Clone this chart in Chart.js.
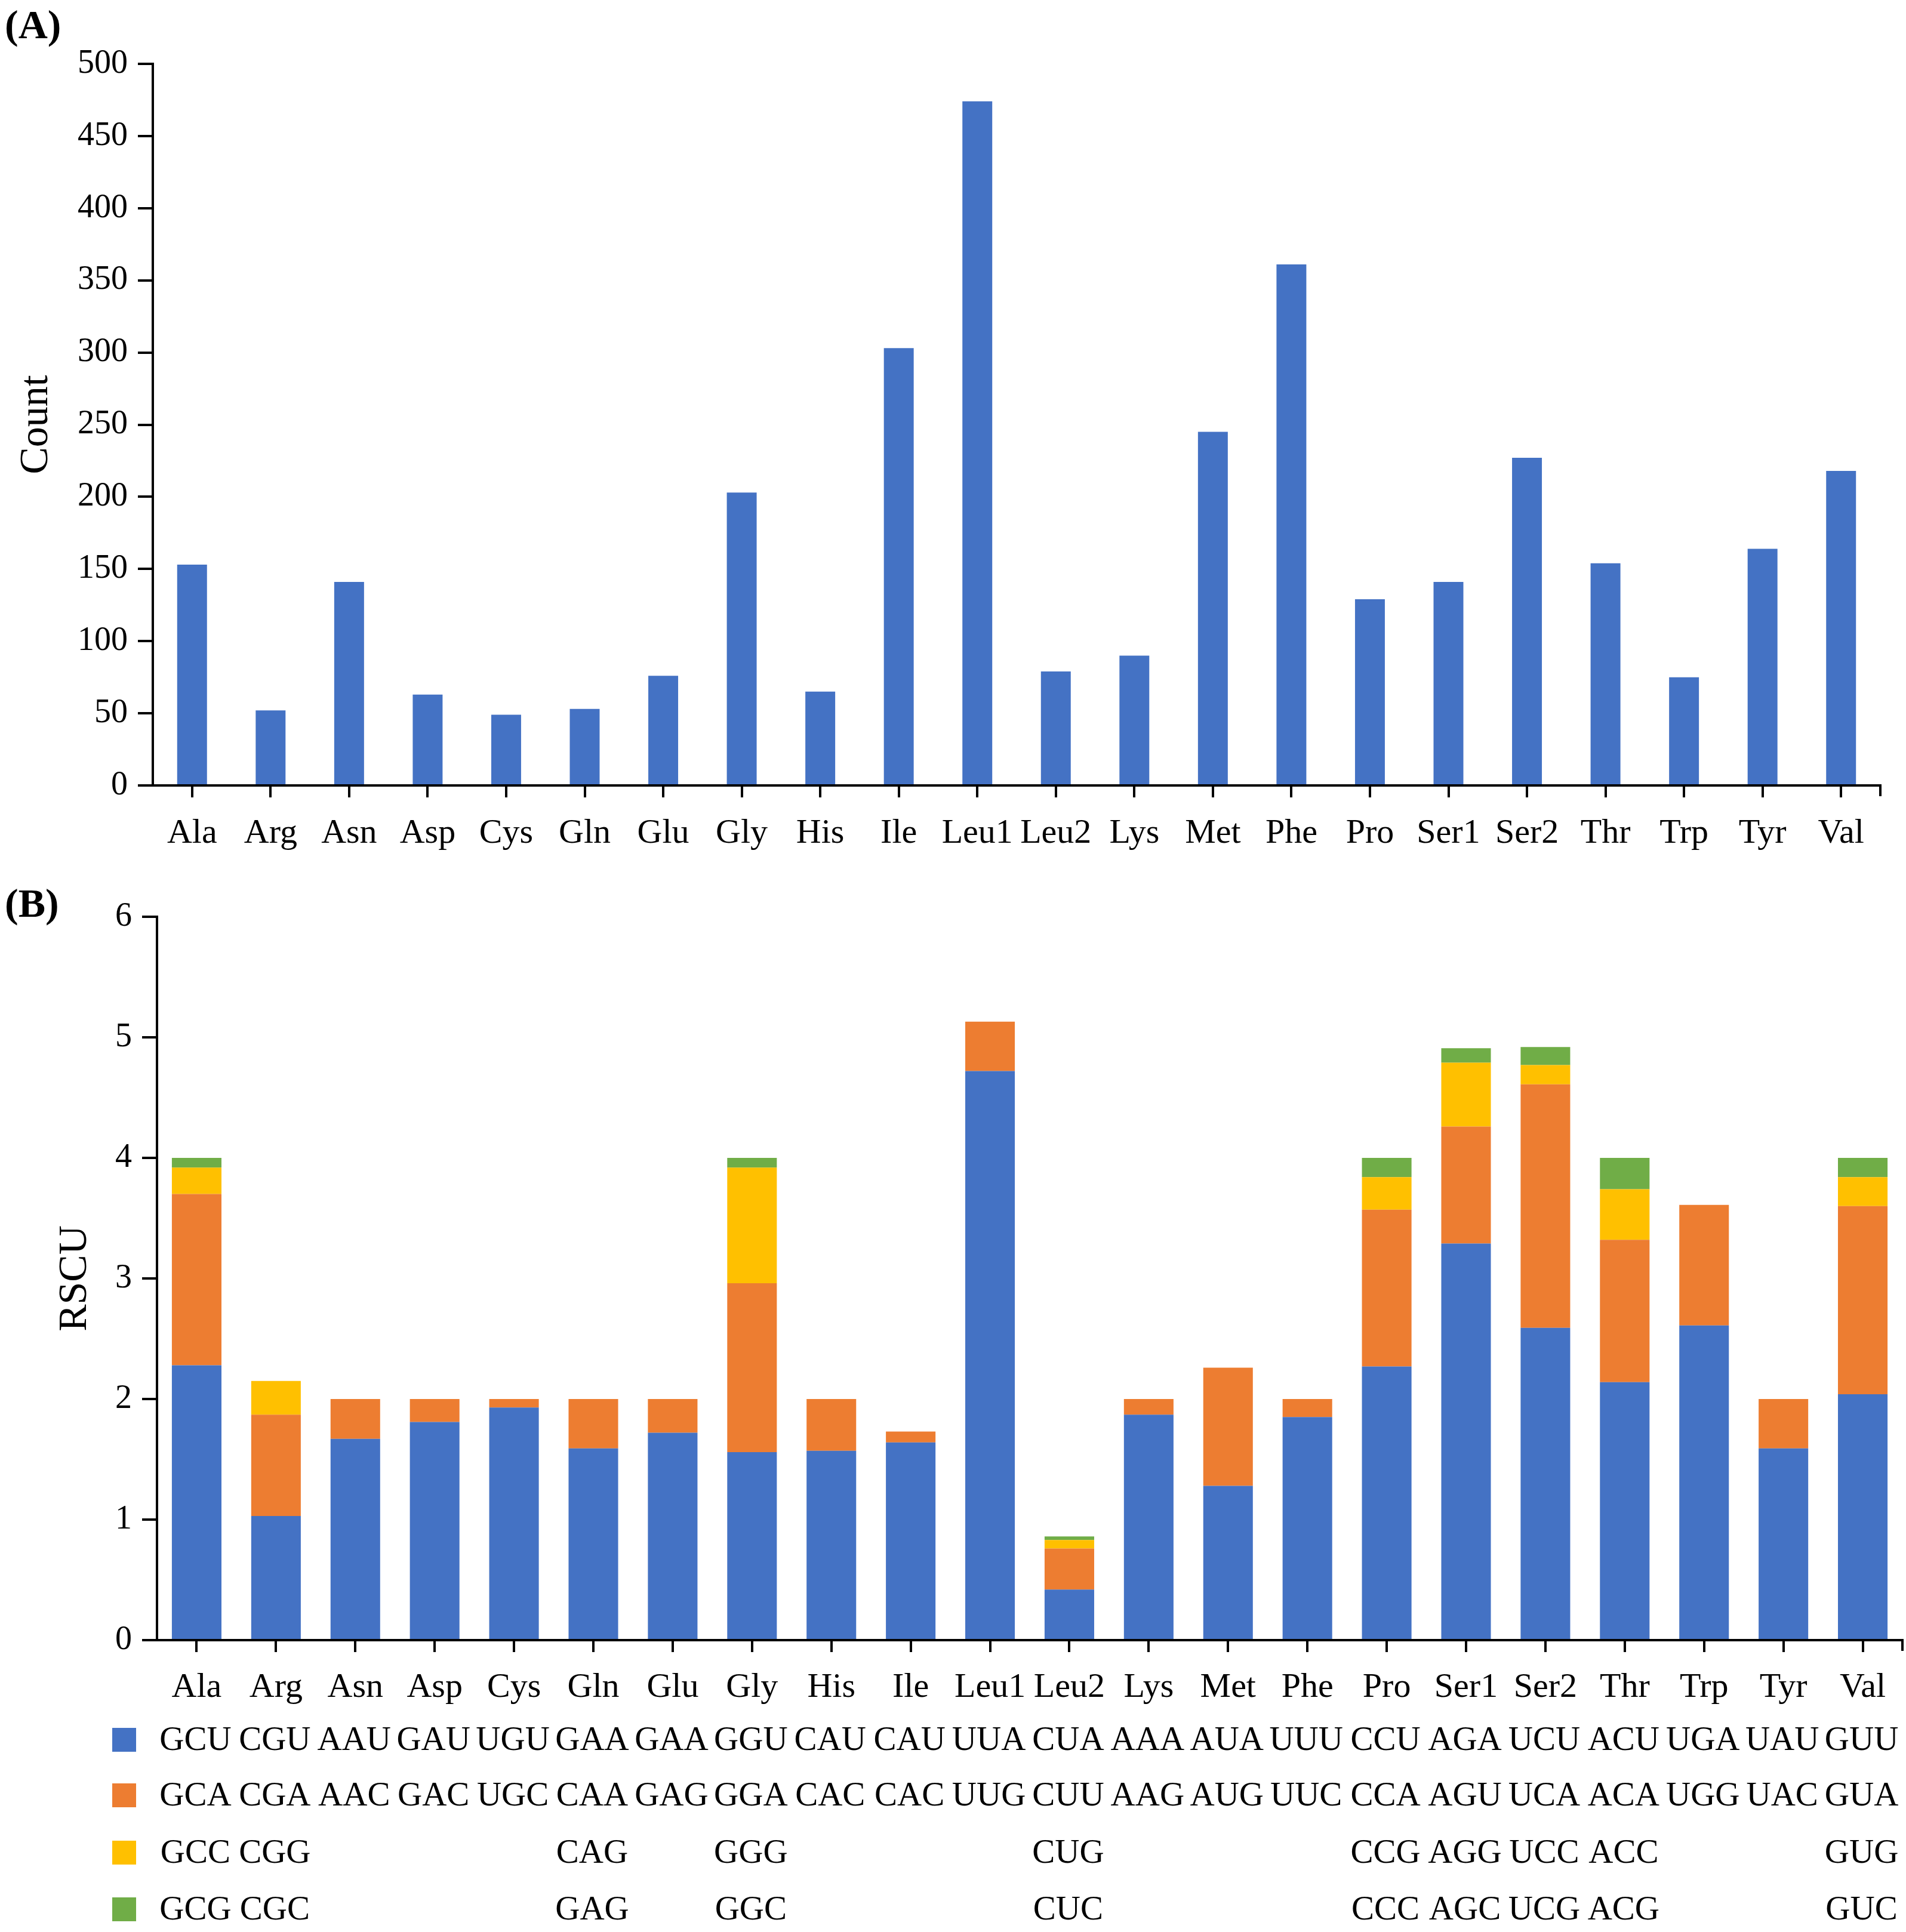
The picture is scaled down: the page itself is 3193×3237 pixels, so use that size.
<!DOCTYPE html>
<html>
<head>
<meta charset="utf-8">
<title>Codon usage</title>
<script src="https://cdn.jsdelivr.net/npm/chart.js@4.4.1/dist/chart.umd.min.js"></script>
<style>
  html, body { margin: 0; padding: 0; background: #fff; }
  #wrap { position: relative; width: 3193px; height: 3237px; }
  canvas { position: absolute; left: 0; }
  #chartA { top: 0; }
  #chartB { top: 1440px; }
</style>
</head>
<body>
<div id="wrap">
  <canvas id="chartA" width="3193" height="1440"></canvas>
  <canvas id="chartB" width="3193" height="1797"></canvas>
</div>
<script>
// amino acids (x categories, both panels)
const aminoAcids = ['Ala', 'Arg', 'Asn', 'Asp', 'Cys', 'Gln', 'Glu', 'Gly', 'His', 'Ile', 'Leu1',
    'Leu2', 'Lys', 'Met', 'Phe', 'Pro', 'Ser1', 'Ser2', 'Thr', 'Trp', 'Tyr', 'Val'];

// (A) codon count per amino acid
const codonCounts = [153, 52, 141, 63, 49, 53, 76, 203, 65, 303, 474,
    79, 90, 245, 361, 129, 141, 227, 154, 75, 164, 218];

// (B) RSCU, one array per stacked codon row
const rscuBlue   = [2.28, 1.03, 1.67, 1.81, 1.93, 1.59, 1.72, 1.56, 1.57, 1.64, 4.72,
    0.42, 1.87, 1.28, 1.85, 2.27, 3.29, 2.59, 2.14, 2.61, 1.59, 2.04];
const rscuOrange = [1.42, 0.84, 0.33, 0.19, 0.07, 0.41, 0.28, 1.40, 0.43, 0.09, 0.41,
    0.34, 0.13, 0.98, 0.15, 1.30, 0.97, 2.02, 1.18, 1.00, 0.41, 1.56];
const rscuYellow = [0.22, 0.28, 0, 0, 0, 0, 0, 0.96, 0, 0, 0,
    0.07, 0, 0, 0, 0.27, 0.53, 0.16, 0.42, 0, 0, 0.24];
const rscuGreen  = [0.08, 0, 0, 0, 0, 0, 0, 0.08, 0, 0, 0,
    0.03, 0, 0, 0, 0.16, 0.12, 0.15, 0.26, 0, 0, 0.16];

// codon table under panel B
const codonsBlue   = ['GCU', 'CGU', 'AAU', 'GAU', 'UGU', 'GAA', 'GAA', 'GGU', 'CAU', 'CAU', 'UUA',
    'CUA', 'AAA', 'AUA', 'UUU', 'CCU', 'AGA', 'UCU', 'ACU', 'UGA', 'UAU', 'GUU'];
const codonsOrange = ['GCA', 'CGA', 'AAC', 'GAC', 'UGC', 'CAA', 'GAG', 'GGA', 'CAC', 'CAC', 'UUG',
    'CUU', 'AAG', 'AUG', 'UUC', 'CCA', 'AGU', 'UCA', 'ACA', 'UGG', 'UAC', 'GUA'];
const codonsYellow = ['GCC', 'CGG', '', '', '', 'CAG', '', 'GGG', '', '', '',
    'CUG', '', '', '', 'CCG', 'AGG', 'UCC', 'ACC', '', '', 'GUG'];
const codonsGreen  = ['GCG', 'CGC', '', '', '', 'GAG', '', 'GGC', '', '', '',
    'CUC', '', '', '', 'CCC', 'AGC', 'UCG', 'ACG', '', '', 'GUC'];

const countMax = 500, countStep = 50;
const rscuMax = 6, rscuStep = 1;

const colors = ['#4472C4', '#ED7D31', '#FFC000', '#70AD47'];
const serif = "'Liberation Serif', 'Times New Roman', serif";

Chart.defaults.font.family = serif;
Chart.defaults.color = '#000';

const panelLabel = {
    id: 'panelLabel',
    afterDraw(chart, args, opts) {
        const ctx = chart.ctx;
        ctx.save();
        ctx.font = 'bold 68px ' + serif;
        ctx.fillStyle = '#000';
        ctx.textBaseline = 'middle';
        ctx.textAlign = 'left';
        ctx.fillText(opts.text, opts.x, opts.y);
        ctx.restore();
    }
};

// closing tick at the right end of the x axis
const axisEnd = {
    id: 'axisEnd',
    afterDraw(chart) {
        const ctx = chart.ctx, a = chart.chartArea;
        ctx.save();
        ctx.strokeStyle = '#000';
        ctx.lineWidth = 4;
        ctx.beginPath();
        ctx.moveTo(a.right, a.bottom);
        ctx.lineTo(a.right, a.bottom + 18);
        ctx.stroke();
        ctx.restore();
    }
};

const codonTable = {
    id: 'codonTable',
    afterDraw(chart, args, opts) {
        const ctx = chart.ctx;
        const xs = chart.scales.x;
        const rows = [codonsBlue, codonsOrange, codonsYellow, codonsGreen];
        ctx.save();
        ctx.font = '57px ' + serif;
        ctx.textBaseline = 'middle';
        ctx.textAlign = 'center';
        rows.forEach((row, r) => {
            const y = opts.rowY[r];
            ctx.fillStyle = colors[r];
            ctx.fillRect(188, y - 20, 40, 40);
            ctx.fillStyle = '#000';
            row.forEach((c, i) => {
                if (c) ctx.fillText(c, xs.getPixelForValue(i) - 2, y + 2);
            });
        });
        ctx.restore();
    }
};

function axisX(tickPad, height) {
    return {
        offset: true,
        grid: { display: true, drawOnChartArea: false, offset: false, tickLength: 20,
                tickWidth: 4, tickColor: '#000', lineWidth: 4 },
        border: { display: true, color: '#000', width: 4 },
        ticks: { font: { size: 58 }, color: '#000', padding: tickPad, maxRotation: 0, autoSkip: false },
        afterFit(s) { s.height = height; }
    };
}

function axisY(max, step, title, titlePad, width) {
    return {
        min: 0, max: max,
        grid: { display: true, drawOnChartArea: false, tickLength: 25,
                tickWidth: 4, tickColor: '#000', lineWidth: 4 },
        border: { display: true, color: '#000', width: 4 },
        ticks: { stepSize: step, font: { size: 56 }, color: '#000', padding: 17 },
        title: { display: true, text: title, font: { size: 68 }, color: '#000',
                 padding: { top: titlePad, bottom: 0 } },
        afterFit(s) { s.width = width; }
    };
}

new Chart(document.getElementById('chartA'), {
    type: 'bar',
    data: {
        labels: aminoAcids,
        datasets: [{
            label: 'Count',
            data: codonCounts,
            backgroundColor: colors[0],
            categoryPercentage: 1,
            barPercentage: 0.38
        }]
    },
    options: {
        responsive: false,
        animation: false,
        devicePixelRatio: 1,
        layout: { padding: { top: 107, right: 43, left: 0, bottom: 0 } },
        plugins: {
            legend: { display: false },
            tooltip: { enabled: false },
            panelLabel: { text: '(A)', x: 8, y: 46 }
        },
        scales: {
            x: axisX(26, 124),
            y: axisY(countMax, countStep, 'Count', 20, 256)
        }
    },
    plugins: [panelLabel, axisEnd]
});

const rscuSets = [rscuBlue, rscuOrange, rscuYellow, rscuGreen];

new Chart(document.getElementById('chartB'), {
    type: 'bar',
    data: {
        labels: aminoAcids,
        datasets: rscuSets.map((d, i) => ({
            label: 'row' + (i + 1),
            data: d,
            backgroundColor: colors[i],
            categoryPercentage: 1,
            barPercentage: 0.625
        }))
    },
    options: {
        responsive: false,
        animation: false,
        devicePixelRatio: 1,
        layout: { padding: { top: 96, right: 6, left: 0, bottom: 0 } },
        plugins: {
            legend: { display: false },
            tooltip: { enabled: false },
            panelLabel: { text: '(B)', x: 8, y: 78 },
            codonTable: { rowY: [1475, 1568, 1664, 1759] }
        },
        scales: {
            x: Object.assign(axisX(25, 489), { stacked: true }),
            y: Object.assign(axisY(rscuMax, rscuStep, 'RSCU', 85, 263), { stacked: true })
        }
    },
    plugins: [panelLabel, codonTable, axisEnd]
});
</script>
</body>
</html>
